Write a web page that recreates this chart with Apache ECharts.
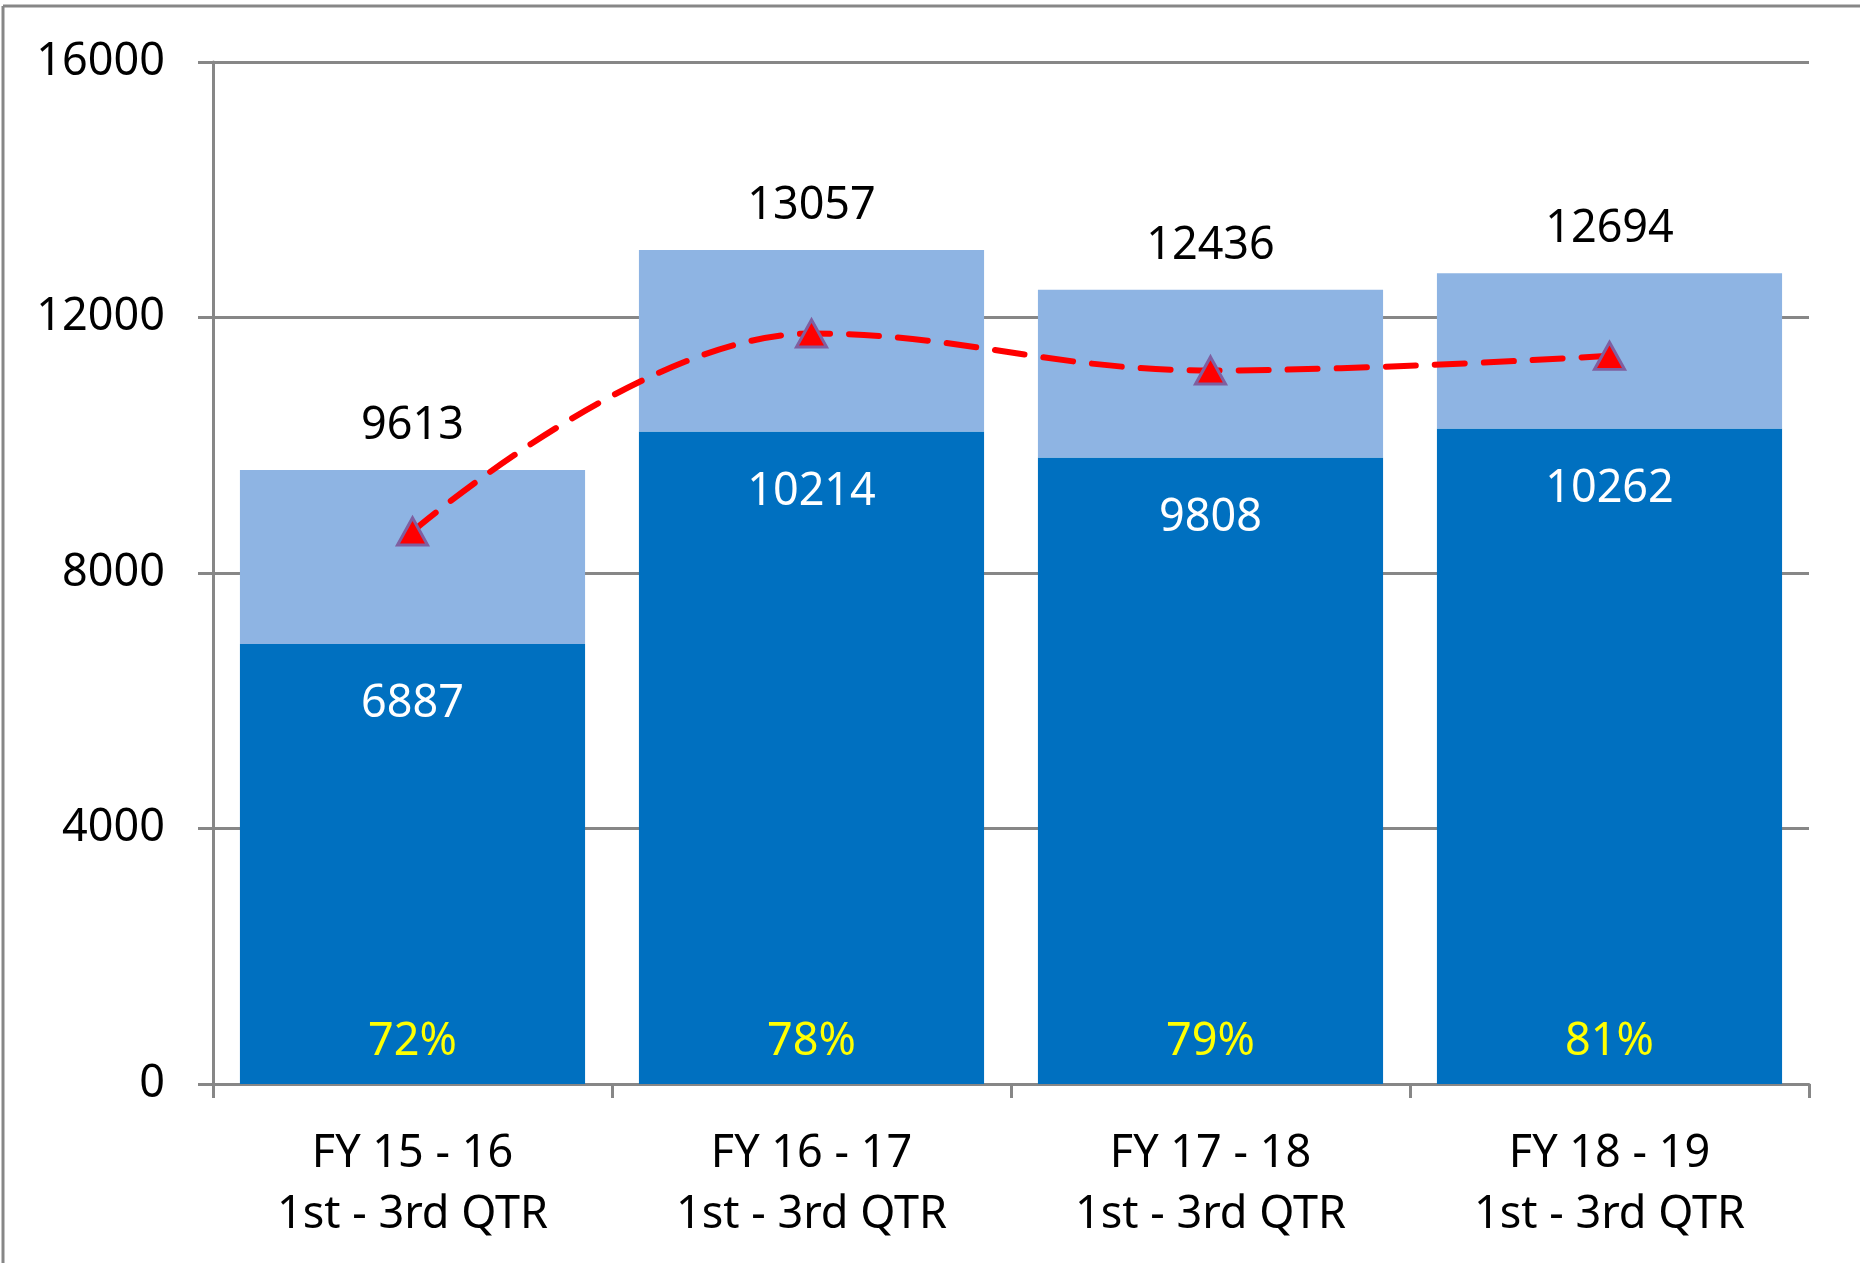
<!DOCTYPE html>
<html>
<head>
<meta charset="utf-8">
<script src="https://cdn.jsdelivr.net/npm/echarts@6/dist/echarts.min.js"></script>
<style>
  html, body { margin: 0; padding: 0; background: #fff; }
  #chart { width: 1860px; height: 1263px; }
</style>
</head>
<body>
<div id="chart"></div>
<script>
var categories = ['FY 15 - 16\n1st - 3rd QTR', 'FY 16 - 17\n1st - 3rd QTR', 'FY 17 - 18\n1st - 3rd QTR', 'FY 18 - 19\n1st - 3rd QTR'];
var baseValues = [6887, 10214, 9808, 10262];
var totals = [9613, 13057, 12436, 12694];
var trendValues = [8650, 11750, 11170, 11400];
var percentLabels = ['72%', '78%', '79%', '81%'];
var yTicks = [0, 4000, 8000, 12000, 16000];

var topValues = totals.map(function (t, i) { return t - baseValues[i]; });

var FONT = '"Noto Sans", "Open Sans", sans-serif';
var GRAY = '#878787';
var FS = 45;

var chart = echarts.init(document.getElementById('chart'));
chart.setOption({
    animation: false,
    backgroundColor: '#fff',
    textStyle: { fontFamily: FONT },
    grid: { left: 213, right: 51, top: 62, bottom: 179 },
    graphic: [
        { type: 'line', shape: { x1: 3, y1: 6, x2: 1860, y2: 6 }, style: { stroke: GRAY, lineWidth: 3 } },
        { type: 'line', shape: { x1: 3, y1: 6, x2: 3, y2: 1263 }, style: { stroke: GRAY, lineWidth: 3 } }
    ],
    xAxis: {
        type: 'category',
        data: categories,
        axisLine: { lineStyle: { color: GRAY, width: 3 } },
        axisTick: { show: true, length: 14, lineStyle: { color: GRAY, width: 3 } },
        axisLabel: { color: '#000', fontSize: FS, lineHeight: 61, margin: 40, fontFamily: FONT }
    },
    yAxis: {
        type: 'value',
        min: yTicks[0],
        max: yTicks[yTicks.length - 1],
        interval: yTicks[1] - yTicks[0],
        axisLine: { show: true, lineStyle: { color: GRAY, width: 3 } },
        axisTick: { show: true, length: 15, lineStyle: { color: GRAY, width: 3 } },
        splitLine: { lineStyle: { color: GRAY, width: 3 } },
        axisLabel: {
            color: '#000', fontSize: FS, margin: 48, fontFamily: FONT,
            padding: [4, 0, 0, 0],
            formatter: function (v) { return String(v); }
        }
    },
    series: [
        {
            type: 'bar',
            stack: 'total',
            data: baseValues,
            barCategoryGap: '13.5%',
            itemStyle: { color: '#0070C0' },
            label: {
                show: true,
                position: 'insideTop',
                distance: 38,
                color: '#fff',
                fontSize: FS,
                fontFamily: FONT
            }
        },
        {
            type: 'bar',
            stack: 'total',
            data: topValues,
            itemStyle: { color: '#8EB4E3' },
            label: {
                show: true,
                position: 'top',
                distance: 21,
                color: '#000',
                fontSize: FS,
                fontFamily: FONT,
                formatter: function (p) { return totals[p.dataIndex]; }
            }
        },
        {
            type: 'scatter',
            data: baseValues.map(function () { return 0; }),
            symbolSize: 0,
            silent: true,
            z: 5,
            itemStyle: { opacity: 1 },
            label: {
                show: true,
                position: 'top',
                distance: 19,
                color: '#FFFF00',
                fontSize: FS,
                fontFamily: FONT,
                formatter: function (p) { return percentLabels[p.dataIndex]; }
            }
        },
        {
            type: 'line',
            data: trendValues,
            smooth: 0.4,
            z: 10,
            symbol: 'triangle',
            symbolSize: [30, 27],
            lineStyle: { color: '#FF0000', width: 6, type: [30, 19], cap: 'round' },
            itemStyle: { color: '#FF0000', borderColor: '#7F5FA0', borderWidth: 3 }
        }
    ]
});
</script>
</body>
</html>
